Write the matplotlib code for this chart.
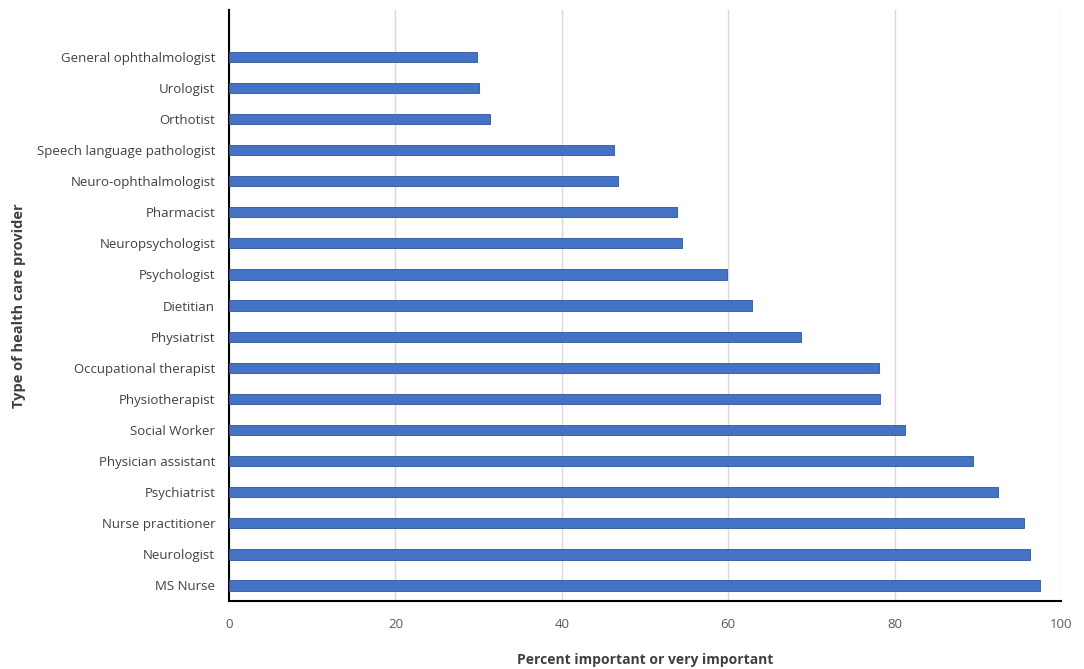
import matplotlib.pyplot as plt
import numpy as np

plt.rcParams['font.family'] = ['Open Sans', 'DejaVu Sans']

# Categories, top to bottom as shown
providers = [
    'General ophthalmologist', 'Urologist', 'Orthotist',
    'Speech language pathologist', 'Neuro-ophthalmologist', 'Pharmacist',
    'Neuropsychologist', 'Psychologist', 'Dietitian', 'Physiatrist',
    'Occupational therapist', 'Physiotherapist', 'Social Worker',
    'Physician assistant', 'Psychiatrist', 'Nurse practitioner',
    'Neurologist', 'MS Nurse',
]
percent = [29.8, 30.0, 31.4, 46.3, 46.8, 53.9, 54.5, 59.8, 62.9, 68.7,
           78.1, 78.2, 81.2, 89.4, 92.4, 95.5, 96.3, 97.5]
x_ticks = [0, 20, 40, 60, 80, 100]

fig = plt.figure(figsize=(10.84, 6.69), dpi=100)
ax = fig.add_axes([0.2113, 0.1016, 0.7675, 0.8834])

# MS Nurse at bottom (y=0), General ophthalmologist at top
y = np.arange(len(providers))[::-1]
ax.barh(y, percent, height=0.33, color='#4472C4', edgecolor='#2F5597',
        linewidth=0.6, zorder=3)

ax.set_ylim(-0.5, len(providers) + 0.5)
ax.set_xlim(0, 100)
ax.set_yticks(y)
ax.set_yticklabels(providers, fontsize=9.5, color='#404040')
ax.set_xticks(x_ticks)
ax.set_xticklabels([str(t) for t in x_ticks], fontsize=9.5, color='#595959')
ax.tick_params(axis='both', length=0)
ax.tick_params(axis='y', pad=10)
ax.tick_params(axis='x', pad=12)

ax.grid(axis='x', color='#D9D9D9', linewidth=1, zorder=0)
for side in ['top', 'right']:
    ax.spines[side].set_visible(False)
ax.spines['left'].set_color('black')
ax.spines['left'].set_linewidth(1.5)
ax.spines['bottom'].set_color('black')
ax.spines['bottom'].set_linewidth(1.5)

ax.set_xlabel('Percent important or very important', fontsize=10,
              fontweight='bold', color='#404040', labelpad=16)
ax.set_ylabel('Type of health care provider', fontsize=10.5,
              fontweight='bold', color='#404040')
ax.yaxis.set_label_coords(-0.244, 0.5)

fig.savefig('out.png', dpi=100)
plt.close(fig)
